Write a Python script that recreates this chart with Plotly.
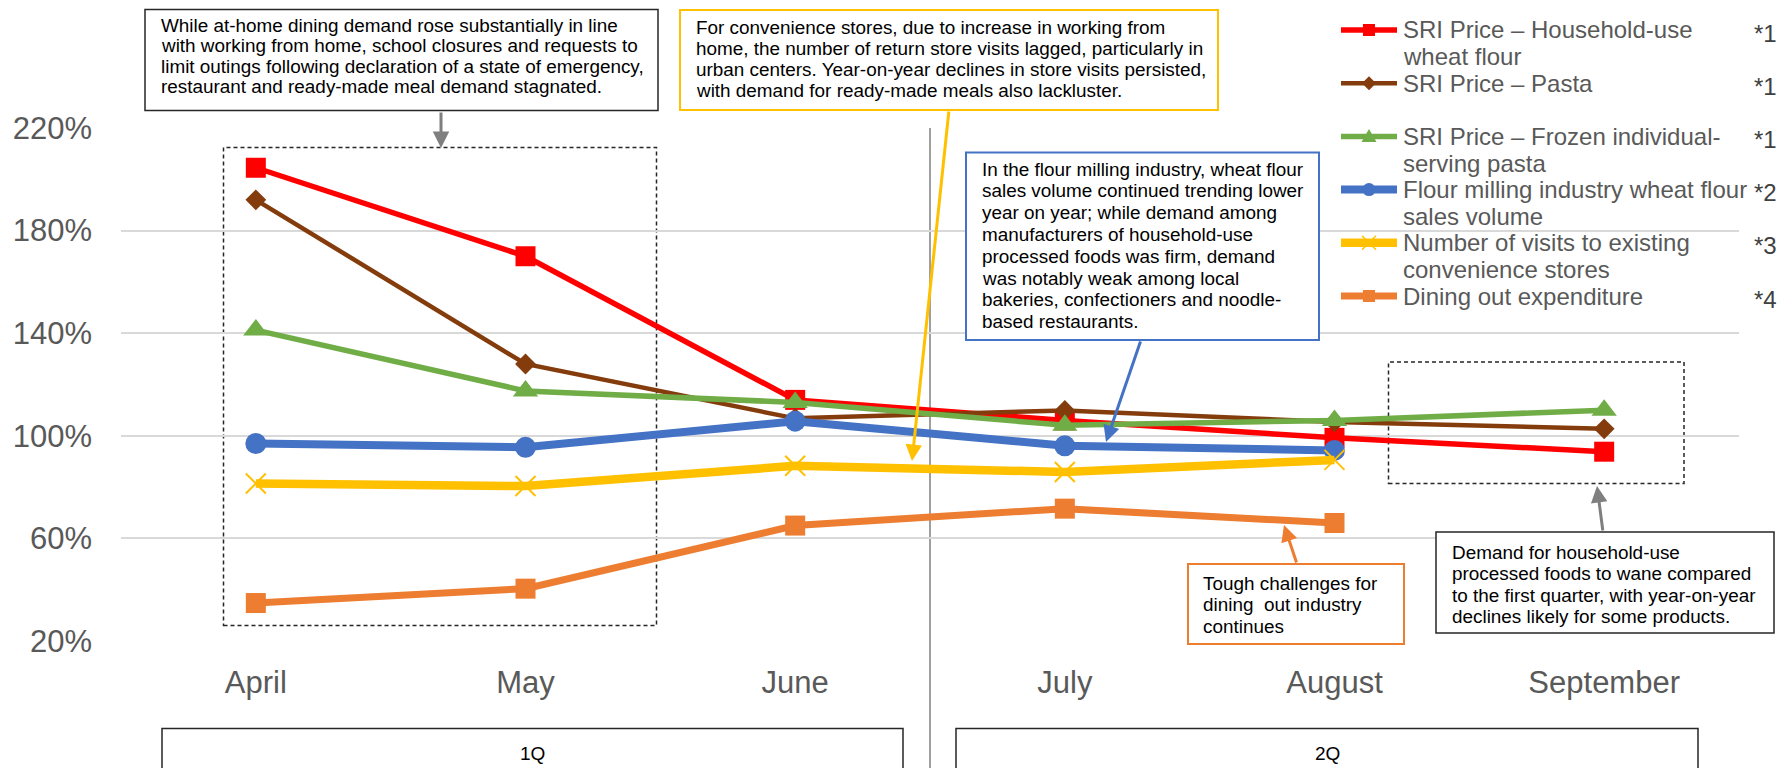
import plotly.graph_objects as go

# ---- data -------------------------------------------------------------
months = ["April", "May", "June", "July", "August", "September"]

sri_wheat_flour = [204.5, 170.0, 114.0, 106.0, 99.2, 93.8]
sri_pasta = [192.0, 128.0, 106.8, 109.9, 105.4, 102.7]
sri_frozen_pasta = [141.2, 117.5, 113.0, 104.1, 106.0, 110.0]
flour_sales_volume = [97.0, 95.5, 105.7, 96.1, 94.3]
cvs_visits = [81.4, 80.4, 88.3, 85.9, 90.6]
dining_out = [34.8, 40.4, 65.0, 71.6, 66.0]

y_ticks = [20, 60, 100, 140, 180, 220]
y_tick_labels = ["20%", "60%", "100%", "140%", "180%", "220%"]
quarters = ["1Q", "2Q"]

# ---- page geometry (pixels) ----------------------------------------------
W, H = 1788, 768
L, R, T, B = 121, 1739, 128, 641
FONT = "Liberation Sans, Arial, sans-serif"
NOTE_SIZE = 18.9


def px(x):
    return (x - L) / (R - L)


def py(y):
    return (B - y) / (B - T)


series = [
    dict(name="SRI Price – Household-use<br>wheat flour", label=["SRI Price – Household-use", "wheat flour"],
         note="*1", y=sri_wheat_flour, color="#FF0000", width=5.5, symbol="square", size=20),
    dict(name="SRI Price – Pasta", label=["SRI Price – Pasta"],
         note="*1", y=sri_pasta, color="#843C0C", width=4.5, symbol="diamond", size=16),
    dict(name="SRI Price – Frozen individual-serving pasta", label=["SRI Price – Frozen individual-", "serving pasta"],
         note="*1", y=sri_frozen_pasta, color="#70AD47", width=5.5, symbol="triangle-up", size=22),
    dict(name="Flour milling industry wheat flour sales volume", label=["Flour milling industry wheat flour", "sales volume"],
         note="*2", y=flour_sales_volume, color="#4472C4", width=8, symbol="circle", size=21),
    dict(name="Number of visits to existing convenience stores", label=["Number of visits to existing", "convenience stores"],
         note="*3", y=cvs_visits, color="#FFC000", width=8.5, symbol="x-thin", size=20),
    dict(name="Dining out expenditure", label=["Dining out expenditure"],
         note="*4", y=dining_out, color="#ED7D31", width=7, symbol="square", size=20),
]

fig = go.Figure()
for s in series:
    marker = dict(symbol=s["symbol"], size=s["size"], color=s["color"])
    if s["symbol"] == "x-thin":
        marker["line"] = dict(width=2, color=s["color"])
    fig.add_trace(go.Scatter(
        x=months[:len(s["y"])], y=s["y"], name=s["name"], mode="lines+markers",
        line=dict(color=s["color"], width=s["width"]), marker=marker,
        showlegend=False, hoverinfo="x+y+name",
    ))

shapes = []
annotations = []


def box(x0, y0, x1, y1, color, width=1.5, dash=None, fill="white", layer="above"):
    shapes.append(dict(type="rect", xref="paper", yref="paper",
                       x0=px(x0), x1=px(x1), y0=py(y1), y1=py(y0),
                       line=dict(color=color, width=width, dash=dash),
                       fillcolor=fill, layer=layer))


def text_block(lines, x, y0, pitch, size=NOTE_SIZE, color="#000000"):
    for i, s in enumerate(lines):
        annotations.append(dict(xref="paper", yref="paper", x=px(x), y=py(y0 + i * pitch),
                                text=s, showarrow=False, xanchor="left", yanchor="middle",
                                font=dict(size=size, color=color, family=FONT)))


def arrow(tail, head, color, width=3):
    annotations.append(dict(xref="paper", yref="paper", x=px(head[0]), y=py(head[1]),
                            ax=tail[0] - head[0], ay=tail[1] - head[1],
                            axref="pixel", ayref="pixel", text="", showarrow=True,
                            arrowhead=2, arrowsize=1.1, arrowwidth=width,
                            arrowcolor=color, standoff=0, startstandoff=0))


# dashed highlight frames
box(223.5, 147.5, 656.5, 625.5, "#262626", width=1.5, dash="4px,3px", fill="rgba(0,0,0,0)", layer="below")
box(1388.5, 362, 1684, 483.5, "#262626", width=1.5, dash="4px,3px", fill="rgba(0,0,0,0)", layer="below")

# quarter separator
shapes.append(dict(type="line", xref="x", yref="paper", x0=2.5, x1=2.5, y0=1, y1=py(800),
                   line=dict(color="#7F7F7F", width=1.5), layer="below"))

# quarter boxes under the axis
for q, (x0, x1) in zip(quarters, [(162, 903), (956, 1698)]):
    box(x0, 728.5, x1, 800, "#262626", width=1.5, fill="rgba(0,0,0,0)")
    annotations.append(dict(xref="paper", yref="paper", x=px((x0 + x1) / 2), y=py(753), text=q,
                            showarrow=False, xanchor="center", yanchor="middle",
                            font=dict(size=19, color="#000000", family=FONT)))

# callout boxes
box(145, 9.5, 658, 110.5, "#262626", width=1.5)
text_block(["While at-home dining demand rose substantially in line",
            "with working from home, school closures and requests to",
            "limit outings following declaration of a state of emergency,",
            "restaurant and ready-made meal demand stagnated."], 159, 25.5, 20.4)

box(680, 10, 1218, 110, "#FFC000", width=2)
text_block(["For convenience stores, due to increase in working from",
            "home, the number of return store visits lagged, particularly in",
            "urban centers. Year-on-year declines in store visits persisted,",
            "with demand for ready-made meals also lackluster."], 694, 27.5, 21)

box(966, 152.5, 1319, 340, "#4472C4", width=2)
text_block(["In the flour milling industry, wheat flour",
            "sales volume continued trending lower",
            "year on year; while demand among",
            "manufacturers of household-use",
            "processed foods was firm, demand",
            "was notably weak among local",
            "bakeries, confectioners and noodle-",
            "based restaurants."], 980, 169, 21.8)

box(1188, 564, 1404, 644, "#ED7D31", width=2)
text_block(["Tough challenges for", "dining\u00a0 out industry", "continues"], 1201, 583, 21.5)

box(1436, 532, 1774, 633, "#262626", width=1.5)
text_block(["Demand for household-use",
            "processed foods to wane compared",
            "to the first quarter, with year-on-year",
            "declines likely for some products."], 1450, 552, 21.5)

# callout arrows
arrow((441, 111), (441, 148), "#7F7F7F")
arrow((949, 110), (912, 461), "#FFC000")
arrow((1141, 340), (1106, 442), "#4472C4")
arrow((1297, 564), (1284, 525), "#ED7D31")
arrow((1603, 532), (1597, 486), "#7F7F7F")

# ---- legend key (right-hand side) -----------------------------------------
LEG_Y0, LEG_PITCH = 30, 26.6
rows = [0, 2, 4, 6, 8, 10]
sx0, sx1, scx = 1341, 1397, 1369


def path(points):
    return "M " + " L ".join(f"{px(a):.6f},{py(b):.6f}" for a, b in points) + " Z"


for s, r in zip(series, rows):
    yc = LEG_Y0 + r * LEG_PITCH
    c = s["color"]
    shapes.append(dict(type="line", xref="paper", yref="paper", x0=px(sx0), x1=px(sx1),
                       y0=py(yc), y1=py(yc), line=dict(color=c, width=s["width"])))
    sym = s["symbol"]
    if sym == "square":
        shapes.append(dict(type="rect", xref="paper", yref="paper", x0=px(scx - 6), x1=px(scx + 6),
                           y0=py(yc + 6), y1=py(yc - 6), line=dict(width=0), fillcolor=c))
    elif sym == "diamond":
        shapes.append(dict(type="path", xref="paper", yref="paper",
                           path=path([(scx - 7, yc), (scx, yc - 7), (scx + 7, yc), (scx, yc + 7)]),
                           line=dict(width=0), fillcolor=c))
    elif sym == "triangle-up":
        shapes.append(dict(type="path", xref="paper", yref="paper",
                           path=path([(scx - 7.5, yc + 5.5), (scx, yc - 7.5), (scx + 7.5, yc + 5.5)]),
                           line=dict(width=0), fillcolor=c))
    elif sym == "circle":
        shapes.append(dict(type="circle", xref="paper", yref="paper", x0=px(scx - 6.5), x1=px(scx + 6.5),
                           y0=py(yc + 6.5), y1=py(yc - 6.5), line=dict(width=0), fillcolor=c))
    else:
        for d in (1, -1):
            shapes.append(dict(type="line", xref="paper", yref="paper",
                               x0=px(scx - 7), x1=px(scx + 7), y0=py(yc - 7 * d), y1=py(yc + 7 * d),
                               line=dict(color=c, width=1.5)))
    for i, line in enumerate(s["label"]):
        annotations.append(dict(xref="paper", yref="paper", x=px(1401), y=py(yc + i * LEG_PITCH),
                                text=line, showarrow=False, xanchor="left", yanchor="middle",
                                font=dict(size=24, color="#595959", family=FONT)))
    annotations.append(dict(xref="paper", yref="paper", x=px(1752), y=py(yc + 3),
                            text=s["note"], showarrow=False, xanchor="left", yanchor="middle",
                            font=dict(size=24, color="#404040", family=FONT)))

fig.update_layout(
    width=W, height=H,
    margin=dict(l=L, r=W - R, t=T, b=H - B, pad=0),
    paper_bgcolor="white", plot_bgcolor="white",
    font=dict(family=FONT, color="#595959"),
    shapes=shapes, annotations=annotations,
    showlegend=False,
    xaxis=dict(type="category", categoryorder="array", categoryarray=months,
               range=[-0.5, 5.5], showgrid=False, showline=False, zeroline=False,
               ticks="", tickfont=dict(size=31, color="#595959"), ticklabelstandoff=20),
    yaxis=dict(range=[20, 220], tickmode="array", tickvals=y_ticks, ticktext=y_tick_labels,
               showline=False, zeroline=False,
               gridcolor="#D9D9D9", gridwidth=1.5, ticks="",
               tickfont=dict(size=31, color="#595959"), ticklabelstandoff=28),
)

fig.write_html("out.html")
